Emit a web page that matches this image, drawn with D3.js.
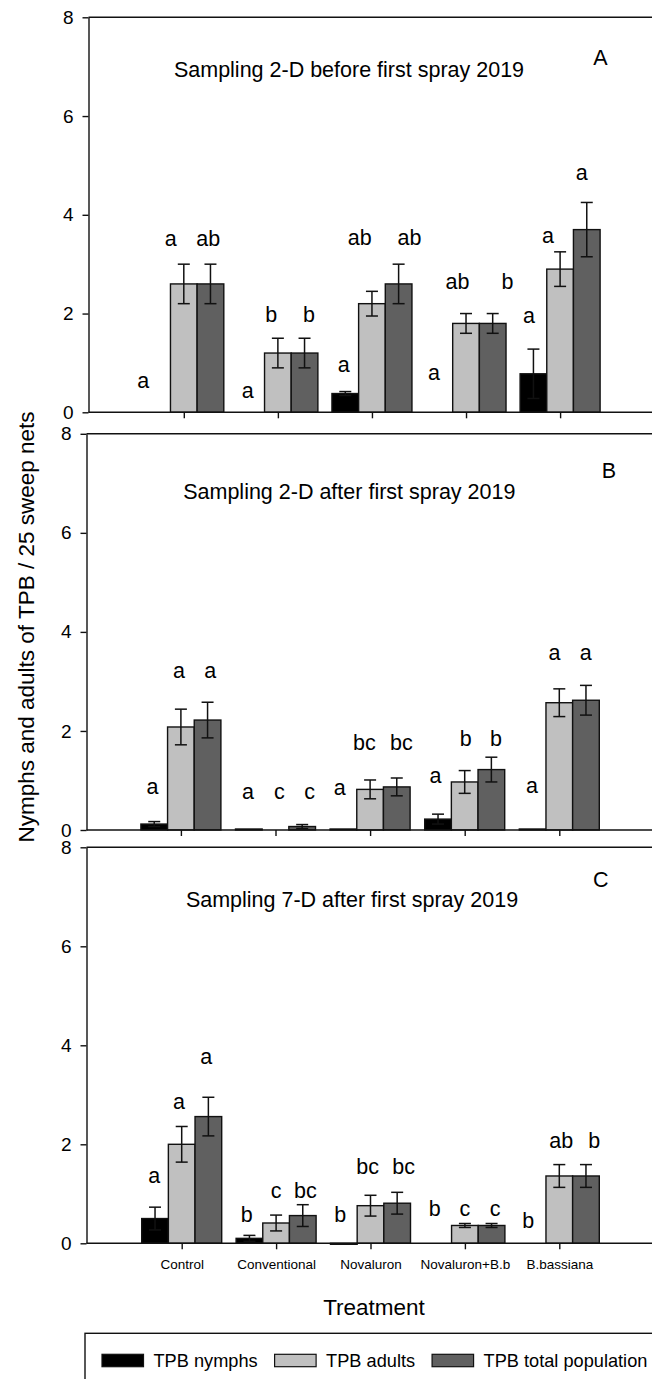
<!DOCTYPE html>
<html>
<head>
<meta charset="utf-8">
<script src="https://cdn.jsdelivr.net/npm/d3@7"></script>
<style>
  html, body { margin: 0; padding: 0; background: #fff; }
  svg { display: block; }
  text { font-family: "Liberation Sans", Arial, Helvetica, sans-serif; fill: #000; }
</style>
</head>
<body>
<svg id="chart" width="652" height="1379"></svg>
<script>
// ---- Data ----------------------------------------------------------------
const categories = ["Control", "Conventional", "Novaluron", "Novaluron+B.b", "B.bassiana"];
const seriesNames = ["TPB nymphs", "TPB adults", "TPB total population"];
const yTickValues = [0, 2, 4, 6, 8];

// A: sampling 2 days before first spray
const nymphsA    = [0, 0, 0.38, 0, 0.78];
const nymphsErrA = [0, 0, 0.04, 0, 0.5];
const adultsA    = [2.6, 1.2, 2.2, 1.8, 2.9];
const adultsErrA = [0.4, 0.3, 0.25, 0.2, 0.35];
const totalA     = [2.6, 1.2, 2.6, 1.8, 3.7];
const totalErrA  = [0.4, 0.3, 0.4, 0.2, 0.55];
const lettersA   = [["a", "a", "ab"], ["a", "b", "b"], ["a", "ab", "ab"], ["a", "ab", "b"], ["a", "a", "a"]];
const letterAtA  = [[-0.43, -0.14, 0.26], [0.68, 0.93, 1.33], [1.70, 1.87, 2.40], [2.66, 2.91, 3.44], [3.67, 3.87, 4.23]];
const letterValA = [[0.49, 3.37, 3.37], [0.28, 1.83, 1.83], [0.82, 3.38, 3.38], [0.65, 2.5, 2.5], [1.81, 3.43, 4.71]];

// B: sampling 2 days after first spray
const nymphsB    = [0.12, 0.02, 0.02, 0.22, 0.02];
const nymphsErrB = [0.05, 0, 0, 0.1, 0];
const adultsB    = [2.08, 0, 0.82, 0.97, 2.57];
const adultsErrB = [0.36, 0, 0.19, 0.23, 0.28];
const totalB     = [2.22, 0.07, 0.87, 1.22, 2.62];
const totalErrB  = [0.36, 0.04, 0.18, 0.25, 0.3];
const lettersB   = [["a", "a", "a"], ["a", "c", "c"], ["a", "bc", "bc"], ["a", "b", "b"], ["a", "a", "a"]];
const letterAtB  = [[-0.30, -0.02, 0.31], [0.71, 1.04, 1.36], [1.68, 1.94, 2.33], [2.69, 3.01, 3.33], [3.71, 3.95, 4.28]];
const letterValB = [[0.72, 3.06, 3.06], [0.63, 0.63, 0.63], [0.70, 1.62, 1.62], [0.94, 1.69, 1.69], [0.74, 3.44, 3.44]];

// C: sampling 7 days after first spray
const nymphsC    = [0.5, 0.1, -0.02, 0, 0];
const nymphsErrC = [0.23, 0.06, 0, 0, 0];
const adultsC    = [2.0, 0.41, 0.76, 0.36, 1.36];
const adultsErrC = [0.36, 0.16, 0.21, 0.04, 0.23];
const totalC     = [2.56, 0.56, 0.81, 0.36, 1.36];
const totalErrC  = [0.39, 0.22, 0.22, 0.04, 0.23];
const lettersC   = [["a", "a", "a"], ["b", "c", "bc"], ["b", "bc", "bc"], ["b", "c", "c"], ["b", "ab", "b"]];
const letterAtC  = [[-0.29, -0.03, 0.26], [0.69, 1.0, 1.31], [1.68, 1.97, 2.35], [2.68, 3.0, 3.32], [3.67, 4.02, 4.37]];
const letterValC = [[1.21, 2.72, 3.62], [0.43, 0.92, 0.92], [0.43, 1.39, 1.39], [0.56, 0.56, 0.56], [0.30, 1.93, 1.93]];

// ---- Styling and layout ---------------------------------------------------
const W = 652, H = 1379;
const FONT_AXIS = 19, FONT_LETTER = 21.5, FONT_TITLE = 21.5, FONT_TAG = 21.5;
const barColors = ["#000000", "#c0c0c0", "#606060"];
const ink = "#111";

const panels = [
  { tag: "A", title: "Sampling 2-D before first spray 2019",
    values: [nymphsA, adultsA, totalA], errors: [nymphsErrA, adultsErrA, totalErrA],
    letters: lettersA, letterAt: letterAtA, letterVal: letterValA,
    frame: { left: 88.5, top: 17.3, bottom: 412.3, firstTick: 183.8, lastTick: 560.1 },
    titlePos: [349, 77], tagPos: [600.5, 64.7], showLabels: false },
  { tag: "B", title: "Sampling 2-D after first spray 2019",
    values: [nymphsB, adultsB, totalB], errors: [nymphsErrB, adultsErrB, totalErrB],
    letters: lettersB, letterAt: letterAtB, letterVal: letterValB,
    frame: { left: 86.5, top: 433.8, bottom: 830, firstTick: 180.9, lastTick: 559.3 },
    titlePos: [349.3, 498.8], tagPos: [609, 477.7], showLabels: false },
  { tag: "C", title: "Sampling 7-D after first spray 2019",
    values: [nymphsC, adultsC, totalC], errors: [nymphsErrC, adultsErrC, totalErrC],
    letters: lettersC, letterAt: letterAtC, letterVal: letterValC,
    frame: { left: 86.5, top: 847.3, bottom: 1243.3, firstTick: 181.7, lastTick: 559.3 },
    titlePos: [352, 906.5], tagPos: [600.8, 887], showLabels: true }
];

const svg = d3.select("#chart");
svg.append("rect").attr("width", W).attr("height", H).attr("fill", "#fff");

// Offsets of the three bars inside a treatment group
const sub = d3.scaleBand().domain(seriesNames).range([-40, 40]).padding(0);
const capHalf = 6;

panels.forEach(p => {
  const f = p.frame;
  const x = d3.scaleLinear().domain([0, categories.length - 1]).range([f.firstTick, f.lastTick]);
  const y = d3.scaleLinear().domain([0, 8]).range([f.bottom, f.top]);
  const g = svg.append("g");

  // Bars
  seriesNames.forEach((s, si) => {
    const rows = categories.map((c, ci) => ({ ci, v: p.values[si][ci], e: p.errors[si][ci] }))
      .filter(d => d.v !== 0);
    g.selectAll(null).data(rows).enter().append("rect")
      .attr("x", d => x(d.ci) + sub(s))
      .attr("width", sub.bandwidth())
      .attr("y", d => Math.min(y(d.v), y(0)))
      .attr("height", d => Math.abs(y(0) - y(d.v)))
      .attr("fill", barColors[si])
      .attr("stroke", ink)
      .attr("stroke-width", 1.4);
  });

  // Error bars
  seriesNames.forEach((s, si) => {
    const rows = categories.map((c, ci) => ({ ci, v: p.values[si][ci], e: p.errors[si][ci] }))
      .filter(d => d.e > 0);
    const eg = g.selectAll(null).data(rows).enter().append("g")
      .attr("stroke", ink).attr("stroke-width", 1.5).attr("fill", "none");
    const cx = d => x(d.ci) + sub(s) + sub.bandwidth() / 2;
    eg.append("line").attr("x1", cx).attr("x2", cx)
      .attr("y1", d => y(d.v - d.e)).attr("y2", d => y(d.v + d.e));
    eg.append("line").attr("x1", d => cx(d) - capHalf).attr("x2", d => cx(d) + capHalf)
      .attr("y1", d => y(d.v + d.e)).attr("y2", d => y(d.v + d.e));
    eg.append("line").attr("x1", d => cx(d) - capHalf).attr("x2", d => cx(d) + capHalf)
      .attr("y1", d => y(d.v - d.e)).attr("y2", d => y(d.v - d.e));
  });

  // Frame: top border and baseline run to the right edge
  g.append("line").attr("x1", f.left).attr("x2", W + 5).attr("y1", y(8)).attr("y2", y(8))
    .attr("stroke", ink).attr("stroke-width", 1.4);
  g.append("line").attr("x1", f.left).attr("x2", W + 5).attr("y1", y(0)).attr("y2", y(0))
    .attr("stroke", ink).attr("stroke-width", 1.4);

  // Y axis
  const ya = g.append("g").attr("transform", `translate(${f.left},0)`)
    .call(d3.axisLeft(y).tickValues(yTickValues).tickSize(6).tickSizeOuter(0).tickPadding(9).tickFormat(d3.format("d")));
  ya.select(".domain").attr("stroke", ink).attr("stroke-width", 1.4);
  ya.selectAll(".tick line").attr("stroke", ink).attr("stroke-width", 1.4);
  ya.selectAll(".tick text").style("font-size", FONT_AXIS + "px").style("font-family", null).attr("fill", "#000");

  // X axis ticks (category names only under the last panel)
  const xa = g.append("g").attr("transform", `translate(0,${y(0)})`)
    .call(d3.axisBottom(x).tickValues(d3.range(categories.length)).tickSize(6).tickSizeOuter(0).tickPadding(10)
      .tickFormat(i => p.showLabels ? categories[i] : ""));
  xa.select(".domain").remove();
  xa.selectAll(".tick line").attr("stroke", ink).attr("stroke-width", 1.4);
  xa.selectAll(".tick text").style("font-size", "13.5px").style("font-family", null).attr("fill", "#000");

  // Significance letters
  const lrows = [];
  p.letters.forEach((grp, ci) => grp.forEach((t, si) => lrows.push({ t, at: p.letterAt[ci][si], v: p.letterVal[ci][si] })));
  g.selectAll(null).data(lrows).enter().append("text")
    .attr("x", d => x(d.at)).attr("y", d => y(d.v))
    .attr("text-anchor", "middle")
    .style("font-size", FONT_LETTER + "px")
    .text(d => d.t);

  // Panel title and tag
  g.append("text").attr("x", p.titlePos[0]).attr("y", p.titlePos[1])
    .attr("text-anchor", "middle").style("font-size", FONT_TITLE + "px").text(p.title);
  g.append("text").attr("x", p.tagPos[0]).attr("y", p.tagPos[1])
    .attr("text-anchor", "middle").style("font-size", FONT_TAG + "px").text(p.tag);
});

// Shared axis titles
svg.append("text")
  .attr("transform", "translate(33.5,627) rotate(-90)")
  .attr("text-anchor", "middle")
  .style("font-size", "22.5px")
  .text("Nymphs and adults of TPB / 25 sweep nets");

svg.append("text")
  .attr("x", 374).attr("y", 1314.7)
  .attr("text-anchor", "middle")
  .style("font-size", "22.5px")
  .text("Treatment");

// Legend
const lg = svg.append("g");
lg.append("rect").attr("x", 85).attr("y", 1333.3).attr("width", 620).attr("height", 100)
  .attr("fill", "none").attr("stroke", ink).attr("stroke-width", 1.4);
let lx = 102;
seriesNames.forEach((s, si) => {
  lg.append("rect").attr("x", lx).attr("y", 1354.3).attr("width", 41.5).attr("height", 12.4)
    .attr("fill", barColors[si]).attr("stroke", ink).attr("stroke-width", 1.2);
  const t = lg.append("text").attr("x", lx + 41.5 + 10).attr("y", 1366.5)
    .style("font-size", "18.2px").text(s);
  lx = lx + 41.5 + 10 + t.node().getComputedTextLength() + 17;
});
</script>
</body>
</html>
